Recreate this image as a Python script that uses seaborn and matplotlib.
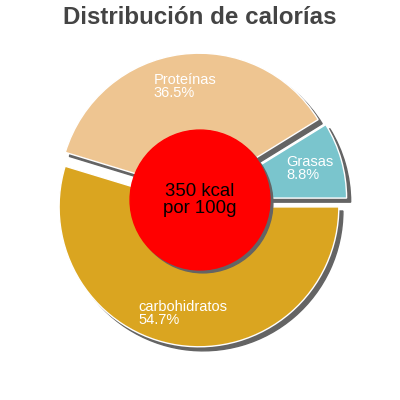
import matplotlib
matplotlib.use('Agg')
import matplotlib.pyplot as plt
import seaborn as sns

# Calorie split (percent of energy)
categories = ['Grasas', 'Proteínas', 'carbohidratos']
values = [8.8, 36.5, 54.7]
colors = ['#7AC5CD', '#EEC591', '#DAA520']
center_text = '350 kcal\npor 100g'
title = 'Distribución de calorías'

sns.set_theme(style='white')
plt.rcParams['font.family'] = ['Liberation Sans', 'DejaVu Sans']

fig = plt.figure(figsize=(4, 4), dpi=100)
ax = fig.add_axes([0, 0, 1, 1])

shadow = {'ox': 0.021, 'oy': -0.021, 'facecolor': '#646464',
          'edgecolor': '#646464', 'alpha': 1.0}
labels = [f'{c}\n{v}%' for c, v in zip(categories, values)]
wedges, texts = ax.pie(values, labels=labels, colors=colors, startangle=0,
                       counterclock=True, explode=[0.05] * len(values),
                       radius=1.0, labeldistance=0.77, shadow=shadow,
                       textprops={'color': 'white', 'fontsize': 10.5,
                                  'linespacing': 0.92})
for t in texts:
    t.set_ha('center')
    t.set_multialignment('left')

# red centre disc with shadow
disc_shadow = plt.Circle((0.021, -0.021), 0.5, color='#646464', zorder=3)
disc = plt.Circle((0, 0), 0.5, color='#FF0000', zorder=4)
ax.add_patch(disc_shadow)
ax.add_patch(disc)
ax.text(0, 0, center_text, ha='center', va='center', fontsize=13.4,
        color='black', zorder=5, linespacing=1.0)

ax.set_xlim(-1.43, 1.43)
ax.set_ylim(-1.43, 1.43)
ax.set_aspect('equal')
ax.axis('off')

fig.text(0.5, 0.957, title, ha='center', va='center', fontsize=17.4,
         fontweight='bold', color='#444444')

fig.savefig('out.png', dpi=100)
